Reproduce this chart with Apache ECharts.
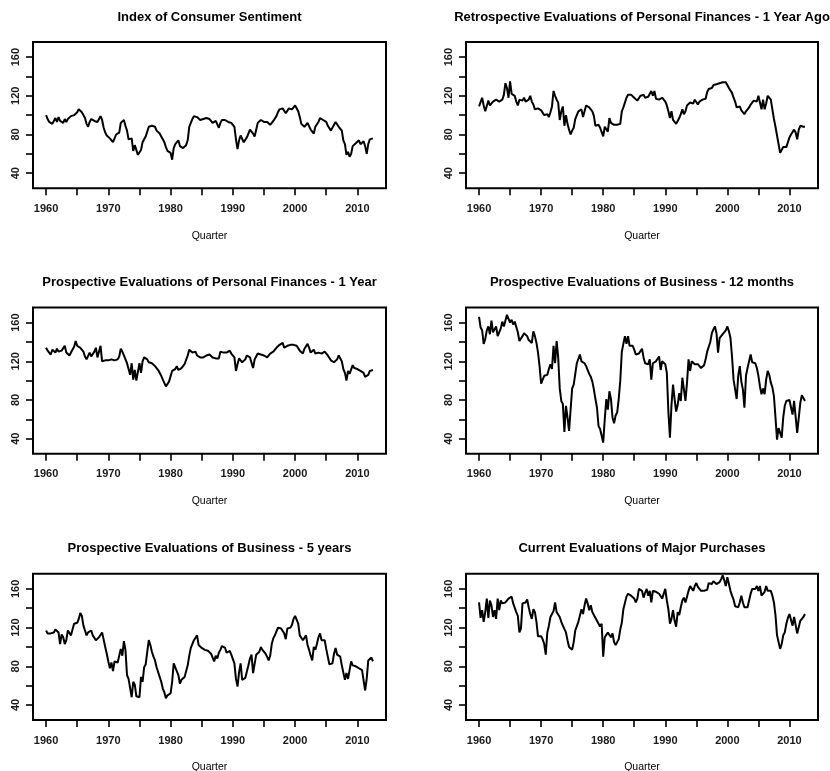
<!DOCTYPE html>
<html>
<head>
<meta charset="utf-8">
<script src="https://cdn.jsdelivr.net/npm/echarts@6/dist/echarts.min.js"></script>
<style>
  html, body { margin: 0; padding: 0; background: #fff; }
  #chart { width: 830px; height: 771px; }
</style>
</head>
<body>
<div id="chart"></div>
<script>
// Quarterly survey indexes, 1960 Q1 .. 2012 Q3 (one row per year)
const firstYear = 1960;

const xTickYears = [1960, 1965, 1970, 1975, 1980, 1985, 1990, 1995, 2000, 2005, 2010];
const xLabelYears = [1960, 1970, 1980, 1990, 2000, 2010];
const yTickValues = [40, 60, 80, 100, 120, 140, 160];
const yLabelValues = [40, 80, 120, 160];
const xAxisTitle = 'Quarter';

const panelTitles = [
  'Index of Consumer Sentiment',
  'Retrospective Evaluations of Personal Finances - 1 Year Ago',
  'Prospective Evaluations of Personal Finances - 1 Year',
  'Prospective Evaluations of Business - 12 months',
  'Prospective Evaluations of Business - 5 years',
  'Current Evaluations of Major Purchases'
];

const consumerSentiment = [
  100, 96, 93, 91,   91, 94, 97, 93,   98, 94, 95, 92,   96, 93, 96, 94,
  99, 99, 100, 102,  103, 106, 104, 103, 100, 97, 91, 88, 93, 96, 95, 94,
  96, 93, 96, 99,    95, 87, 82, 79,   78, 76, 75, 72,   76, 80, 81, 82,
  92, 93, 95, 89,    84, 75, 76, 76,   63, 69, 71, 59,   57, 64, 72, 75,
  78, 83, 88, 89,    89, 90, 88, 84,   83, 81, 78, 75,   72, 67, 63, 61,
  61, 54, 66, 70,    72, 74, 68, 66,   66, 66, 69, 74,   88, 92, 96, 99,
  99, 98, 96, 95,    95, 96, 95, 97,   95, 96, 94, 92,   92, 94, 92, 87,
  92, 95, 94, 95,    95, 93, 92, 92,   90, 88, 75, 65,   74, 79, 81, 72,
  74, 77, 81, 85,    83, 81, 78, 85,   92, 93, 95, 94,   93, 92, 93, 91,
  90, 92, 94, 96,    99, 103, 106, 106, 107, 107, 102, 104, 107, 106, 106, 107,
  110, 108, 104, 98, 91, 89, 88, 86,   92, 91, 85, 84,   81, 88, 90, 93,
  97, 96, 95, 94,    93, 89, 87, 84,   83, 90, 93, 92,   88, 86, 84, 74,
  70, 59, 62, 57,    60, 68, 70, 71,   72, 74, 70, 69,   73, 68, 60, 70,
  75, 76, 76
];

const financesPastYear = [
  109, 108, 118, 110, 104, 106, 115, 110, 111, 114, 115, 116, 115, 114, 116, 116,
  121, 133, 128, 118, 135, 122, 121, 120, 114, 110, 116, 115, 115, 118, 114, 115,
  116, 120, 114, 111, 106, 107, 107, 106, 105, 104, 100, 98,  101, 98, 103, 109,
  125, 120, 116, 113, 95, 104, 109, 89,  100, 91, 85, 80,   84, 87, 96, 100,
  104, 105, 106, 98,  104, 110, 109, 108, 106, 104, 99, 89,  90, 90, 87, 85,
  78, 88, 88, 83,     97, 92, 90, 90,   89, 90, 90, 91,   104, 108, 113, 118,
  121, 122, 121, 120, 118, 116, 115, 116, 120, 122, 121, 118, 120, 119, 118, 125,
  120, 125, 117, 116, 116, 116, 118, 120, 114, 110, 104, 97, 104, 95, 97, 91,
  94, 97, 101, 106,   101, 104, 110, 111, 113, 113, 112, 116, 116, 111, 114, 116,
  116, 117, 117, 124, 127, 126, 128, 131, 131, 132, 132, 133, 133, 134, 133, 134,
  134, 128, 126, 123, 118, 114, 108, 107, 109, 105, 103, 101, 104, 104, 108, 111,
  113, 115, 115, 114, 120, 113, 106, 116, 106, 112, 120, 118, 116, 106, 96, 88,
  79, 77, 61, 63,     67, 66, 67, 69,   77, 80, 81, 85,   82, 75, 85, 89,
  90, 88, 88
];

const financesNextYear = [
  134, 131, 133, 127, 132, 130, 129, 133, 130, 128, 131, 132, 136, 129, 127, 126,
  129, 131, 135, 141, 136, 136, 134, 133, 130, 125, 122, 121, 129, 125, 127, 130,
  134, 124, 126, 136, 120, 121, 121, 122, 121, 121, 122, 121, 121, 121, 122, 125,
  133, 130, 126, 125, 118, 112, 106, 118, 101, 111, 100, 101, 118, 108, 120, 124,
  124, 122, 119, 119, 118, 118, 115, 113, 111, 111, 105, 101, 99, 94, 96, 99,
  100, 110, 108, 112, 115, 111, 112, 113, 115, 117, 119, 126, 132, 130, 129, 130,
  130, 126, 125, 124, 125, 124, 124, 126, 127, 127, 125, 124, 124, 123, 122, 123,
  130, 128, 129, 128, 129, 130, 131, 128, 127, 124, 110, 117, 123, 121, 119, 120,
  122, 126, 125, 124, 124, 113, 122, 125, 128, 127, 127, 127, 126, 125, 124, 126,
  128, 129, 130, 131, 134, 135, 137, 138, 139, 134, 135, 136, 136, 137, 136, 137,
  137, 136, 134, 131, 129, 128, 133, 135, 138, 134, 129, 131, 132, 128, 127, 129,
  131, 128, 129, 130, 128, 126, 124, 121, 119, 119, 118, 122, 126, 124, 120, 112,
  108, 100, 110, 107, 109, 116, 113, 113, 112, 110, 110, 109, 108, 104, 103, 106,
  110, 111, 111
];

const businessNextYear = [
  166, 155, 152, 138, 143, 152, 156, 148, 162, 150, 152, 156, 146, 150, 154, 161,
  156, 156, 168, 166, 160, 163, 158, 161, 161, 150, 141, 139, 146, 149, 147, 146,
  142, 144, 139, 151, 146, 139, 129, 115, 97, 101, 105, 106,  106, 112, 117, 112,
  136, 118, 141, 124, 92, 79, 76, 47,   74, 62, 48, 46,    92, 96, 96, 118,
  120, 127, 120, 122, 118, 115, 111, 107, 104, 99, 91, 81,   72, 53, 50, 50,
  36, 60, 81, 70,     89, 81, 62, 56,   64, 67, 81, 100,  130, 131, 146, 138,
  146, 136, 137, 136, 132, 127, 125, 128, 130, 133, 124, 118, 117, 117, 122, 101,
  118, 120, 120, 122, 125, 111, 120, 118, 117, 108, 68, 41,  75, 96, 81, 68,
  75, 87, 79, 103,    91, 79, 98, 122,  110, 120, 118, 117, 118, 117, 115, 113,
  114, 116, 122, 130, 135, 140, 149, 153, 156, 149, 129, 144, 145, 148, 149, 152,
  156, 151, 144, 125, 101, 99, 81, 105, 115, 99, 91, 72,   105, 113, 120, 127,
  119, 118, 118, 113, 105, 94, 86, 92,  86, 101, 110, 106, 98, 93, 84, 62,
  39, 51, 46, 41,     62, 74, 79, 81,   80, 81, 65, 79,   77, 46, 46, 77,
  85, 86, 79
];

const businessFiveYears = [
  117, 114, 116, 114, 116, 115, 118, 120, 115, 103, 113, 110, 103, 107, 117, 116,
  112, 118, 124, 123, 125, 129, 135, 132, 122, 117, 112, 115, 115, 117, 112, 110,
  107, 109, 110, 112, 115, 113, 100, 93,  85, 78, 84, 75,   85, 83, 84, 86,
  98, 91, 106, 97,    71, 67, 69, 48,   64, 61, 49, 48,   48, 69, 64, 79,
  82, 95, 107, 102,   95, 90, 86, 79,   74, 69, 64, 57,   53, 47, 50, 50,
  52, 64, 83, 79,     78, 71, 62, 66,   66, 69, 71, 81,   91, 99, 100, 107,
  109, 112, 102, 100, 99, 98, 97, 97,   96, 94, 93, 91,   85, 91, 88, 94,
  97, 101, 99, 99,    94, 95, 96, 92,   92, 83, 67, 59,   74, 83, 66, 67,
  68, 69, 81, 88,     92, 73, 74, 92,   93, 95, 100, 97,  96, 93, 90, 86,
  91, 103, 109, 112,  114, 120, 122, 119, 117, 114, 108, 119, 119, 120, 123, 129,
  132, 133, 124, 112, 110, 107, 107, 112, 102, 97, 91, 86,  100, 97, 103, 110,
  114, 107, 109, 107, 98, 90, 82, 81,   83, 93, 99, 92,   93, 90, 81, 81,
  66, 73, 67, 67,     85, 81, 83, 80,   79, 78, 76, 76,   77, 55, 67, 86,
  87, 89, 85
];

const majorPurchases = [
  146, 130, 138, 126, 136, 150, 130, 148, 143, 131, 138, 129, 150, 138, 148, 145,
  143, 146, 148, 150, 151, 152, 145, 143, 136, 132, 115, 119, 145, 143, 146, 149,
  141, 134, 129, 139, 136, 126, 111, 112, 111, 108, 103, 92,  115, 122, 131, 134,
  137, 146, 136, 136, 131, 126, 122, 120, 115, 107, 100, 98,  97, 105, 117, 119,
  126, 127, 139, 134, 143, 150, 145, 138, 143, 136, 133, 131, 127, 124, 121, 124,
  90, 110, 112, 115,  117, 110, 114, 105, 102, 105, 108, 118, 125, 139, 140, 152,
  155, 157, 153, 154, 150, 146, 150, 160, 160, 158, 151, 156, 160, 153, 158, 146,
  158, 160, 157, 156, 155, 157, 150, 152, 160, 148, 139, 124, 129, 138, 127, 121,
  136, 133, 141, 148, 151, 146, 152, 158, 163, 162, 158, 163, 166, 162, 160, 158,
  159, 158, 159, 159, 166, 168, 165, 168, 168, 165, 163, 167, 170, 174, 169, 163,
  172, 165, 158, 153, 149, 142, 141, 141, 146, 153, 146, 141, 143, 141, 148, 155,
  160, 158, 160, 163, 158, 163, 153, 155, 157, 163, 158, 160, 158, 153, 146, 133,
  112, 110, 98, 103,  112, 115, 124, 130, 134, 133, 122, 131, 129, 114, 114, 127,
  129, 131, 134
];

const panelSeries = [
  consumerSentiment, financesPastYear,
  financesNextYear, businessNextYear,
  businessFiveYears, majorPurchases
];

// Page layout (pixels)
const FONT = "'Liberation Sans', Arial, Helvetica, sans-serif";
const colLeft = [33, 466];
const colWidth = [353, 352];
const rowTop = [42, 307.5, 573.8];
const plotHeight = 146.3;
const titleOffset = 25;   // title centre above plot top

function plainNumber(v) { return String(v); }

const grids = [], xAxes = [], yAxes = [], series = [], graphics = [];

panelSeries.forEach(function (values, i) {
  const col = i % 2, row = Math.floor(i / 2);
  grids.push({
    left: colLeft[col], top: rowTop[row], width: colWidth[col], height: plotHeight,
    show: true, borderColor: '#000', borderWidth: 2, backgroundColor: 'transparent',
    containLabel: false, outerBoundsMode: 'none'
  });
  xAxes.push({
    gridIndex: i, type: 'value', min: 1957.9, max: 2014.6,
    axisLine: { show: false, onZero: false },
    splitLine: { show: false },
    axisTick: { show: true, customValues: xTickYears, length: 7, lineStyle: { color: '#000', width: 1.6 } },
    axisLabel: {
      customValues: xLabelYears, formatter: plainNumber, margin: 15,
      fontSize: 11, fontWeight: 'bold', color: '#1a1a1a', fontFamily: FONT
    },
    name: xAxisTitle, nameLocation: 'middle', nameGap: 42,
    nameTextStyle: { fontSize: 10.5, color: '#000', fontFamily: FONT }
  });
  yAxes.push({
    gridIndex: i, type: 'value', min: 24.4, max: 175.6,
    axisLine: { show: false, onZero: false },
    splitLine: { show: false },
    axisTick: { show: true, customValues: yTickValues, length: 7, lineStyle: { color: '#000', width: 1.6 } },
    axisLabel: {
      customValues: yLabelValues, formatter: plainNumber, rotate: 90, margin: 12,
      fontSize: 11, fontWeight: 'bold', color: '#1a1a1a', fontFamily: FONT
    }
  });
  series.push({
    type: 'line', xAxisIndex: i, yAxisIndex: i,
    data: values.map(function (v, k) { return [firstYear + k / 4, v]; }),
    showSymbol: false, symbol: 'none', silent: true,
    lineStyle: { color: '#000', width: 2 }
  });
  graphics.push({
    type: 'text',
    x: colLeft[col] + colWidth[col] / 2,
    y: rowTop[row] - titleOffset,
    style: {
      text: panelTitles[i],
      textAlign: 'center', align: 'center',
      textVerticalAlign: 'middle', verticalAlign: 'middle',
      fontSize: 13, fontWeight: 'bold', fontFamily: FONT, fill: '#000'
    }
  });
});

const chart = echarts.init(document.getElementById('chart'), null, { renderer: 'canvas' });
chart.setOption({
  backgroundColor: '#fff',
  animation: false,
  grid: grids,
  xAxis: xAxes,
  yAxis: yAxes,
  series: series,
  graphic: graphics
});
</script>
</body>
</html>
